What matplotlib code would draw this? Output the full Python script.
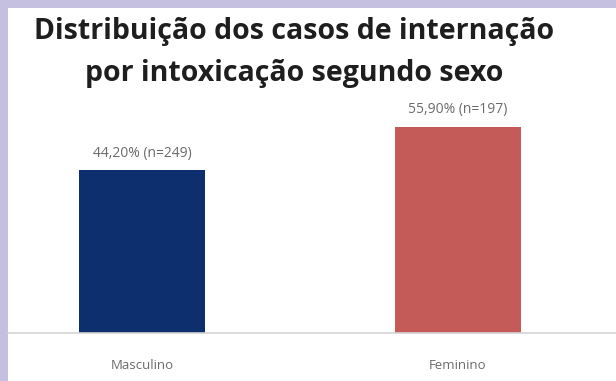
import matplotlib.pyplot as plt

categorias = ["Masculino", "Feminino"]
percentuais = [44.20, 55.90]
casos = [249, 197]
cores = ["#0d2f6e", "#c45b58"]
titulo = ["Distribuição dos casos de internação", "por intoxicação segundo sexo"]

fig = plt.figure(figsize=(6.16, 3.81), dpi=100)
fig.patch.set_facecolor("#c6c0e0")

# painel branco (moldura lilás à esquerda e no topo)
fundo = fig.add_axes([8 / 616, 0, 1 - 8 / 616, 1 - 8 / 381])
fundo.set_facecolor("white")
fundo.set_xticks([])
fundo.set_yticks([])
for s in fundo.spines.values():
    s.set_visible(False)

ax = fig.add_axes([8 / 616, 48 / 381, 1 - 8 / 616, 240 / 381])
ax.set_facecolor("none")
x = [0, 1]
ax.bar(x, percentuais, width=0.396, color=cores)
ax.set_xlim(-0.424, 1.5)
ax.set_ylim(0, 240 / 3.685)

for xi, p, n in zip(x, percentuais, casos):
    rotulo = f"{p:.2f}% (n={n})".replace(".", ",")
    ax.text(xi, p + 2.6, rotulo, ha="center", va="bottom",
            fontsize=10, color="#6b6b6b", family="Open Sans")

ax.set_xticks(x)
ax.set_xticklabels(categorias, fontsize=9.5, color="#6b6b6b", family="Open Sans")
ax.tick_params(axis="x", length=0, pad=19)
ax.set_yticks([])
for lado in ["top", "right", "left"]:
    ax.spines[lado].set_visible(False)
ax.spines["bottom"].set_color("#d4d4d4")
ax.spines["bottom"].set_linewidth(1.2)

# título em duas linhas
for linha, base in zip(titulo, [39, 81]):
    fig.text(294 / 616, 1 - base / 381, linha, ha="center", va="baseline",
             fontsize=20.5, fontweight="bold", color="#1e1e1e", family="Open Sans")

fig.savefig("out.png", dpi=100, facecolor=fig.get_facecolor())
